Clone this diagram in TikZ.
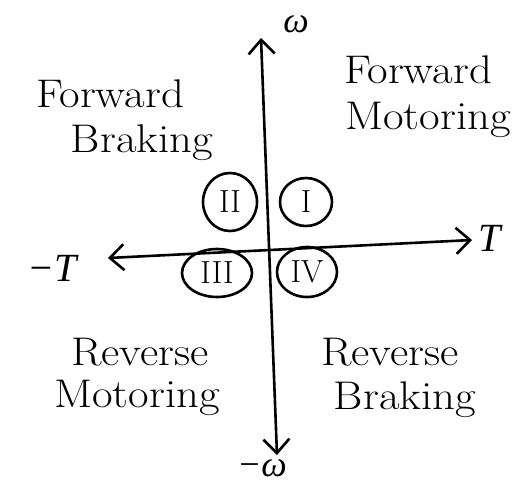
\documentclass[tikz,border=0pt]{standalone}
\usepackage{fontspec}
\newfontfamily\axfont{Liberation Serif}
\usetikzlibrary{arrows.meta,shapes.geometric}
\begin{document}
\begin{tikzpicture}[x=1pt,y=-1pt,
  axis/.style={line width=2.6pt,{Straight Barb[length=14pt,width=26pt,line width=2.6pt]}-{Straight Barb[length=14pt,width=26pt,line width=2.6pt]}},
  lbl/.style={font=\fontsize{40}{44}\selectfont, inner sep=0pt, xscale=1.12, transform shape},
  axlbl/.style={font=\axfont\itshape\fontsize{40}{44}\selectfont, inner sep=0pt},
  quad/.style={draw, ellipse, line width=2.6pt, inner sep=0pt, font=\fontsize{32}{34}\selectfont}]
\useasboundingbox (0,0) rectangle (519,490);
\coordinate (wtop) at (261,38);
\coordinate (wbot) at (277,455);
\coordinate (tleft) at (108,258);
\coordinate (tright) at (472,240);
\draw[axis] (wbot) -- (wtop);
\draw[axis] (tleft) -- (tright);
\node[axlbl, font=\axfont\itshape\fontsize{36}{40}\selectfont] (w) at (296,24) {ω};
\node[axlbl, font=\axfont\itshape\fontsize{36}{40}\selectfont] (mw) at (262,468) {−ω};
\node[axlbl] (t) at (490,238) {T};
\node[axlbl] (mt) at (52,268) {−T};
\node[lbl] (fb1) at (110,94) {Forward};
\node[lbl] (fb2) at (142,143) {Braking};
\node[lbl] (fm1) at (418,70) {Forward};
\node[lbl] (fm2) at (428,120) {Motoring};
\node[lbl] (rm1) at (140,352) {Reverse};
\node[lbl] (rm2) at (137,398) {Motoring};
\node[lbl] (rb1) at (390,352) {Reverse};
\node[lbl] (rb2) at (405,400) {Braking};
\node[quad, minimum width=54pt, minimum height=58pt] (q2) at (230,202) {II};
\node[quad, minimum width=52pt, minimum height=48pt] (q1) at (306,202) {I};
\node[quad, minimum width=70pt, minimum height=48pt] (q3) at (217,273) {III};
\node[quad, minimum width=60pt, minimum height=50pt] (q4) at (307,272) {IV};
\end{tikzpicture}
\end{document}
